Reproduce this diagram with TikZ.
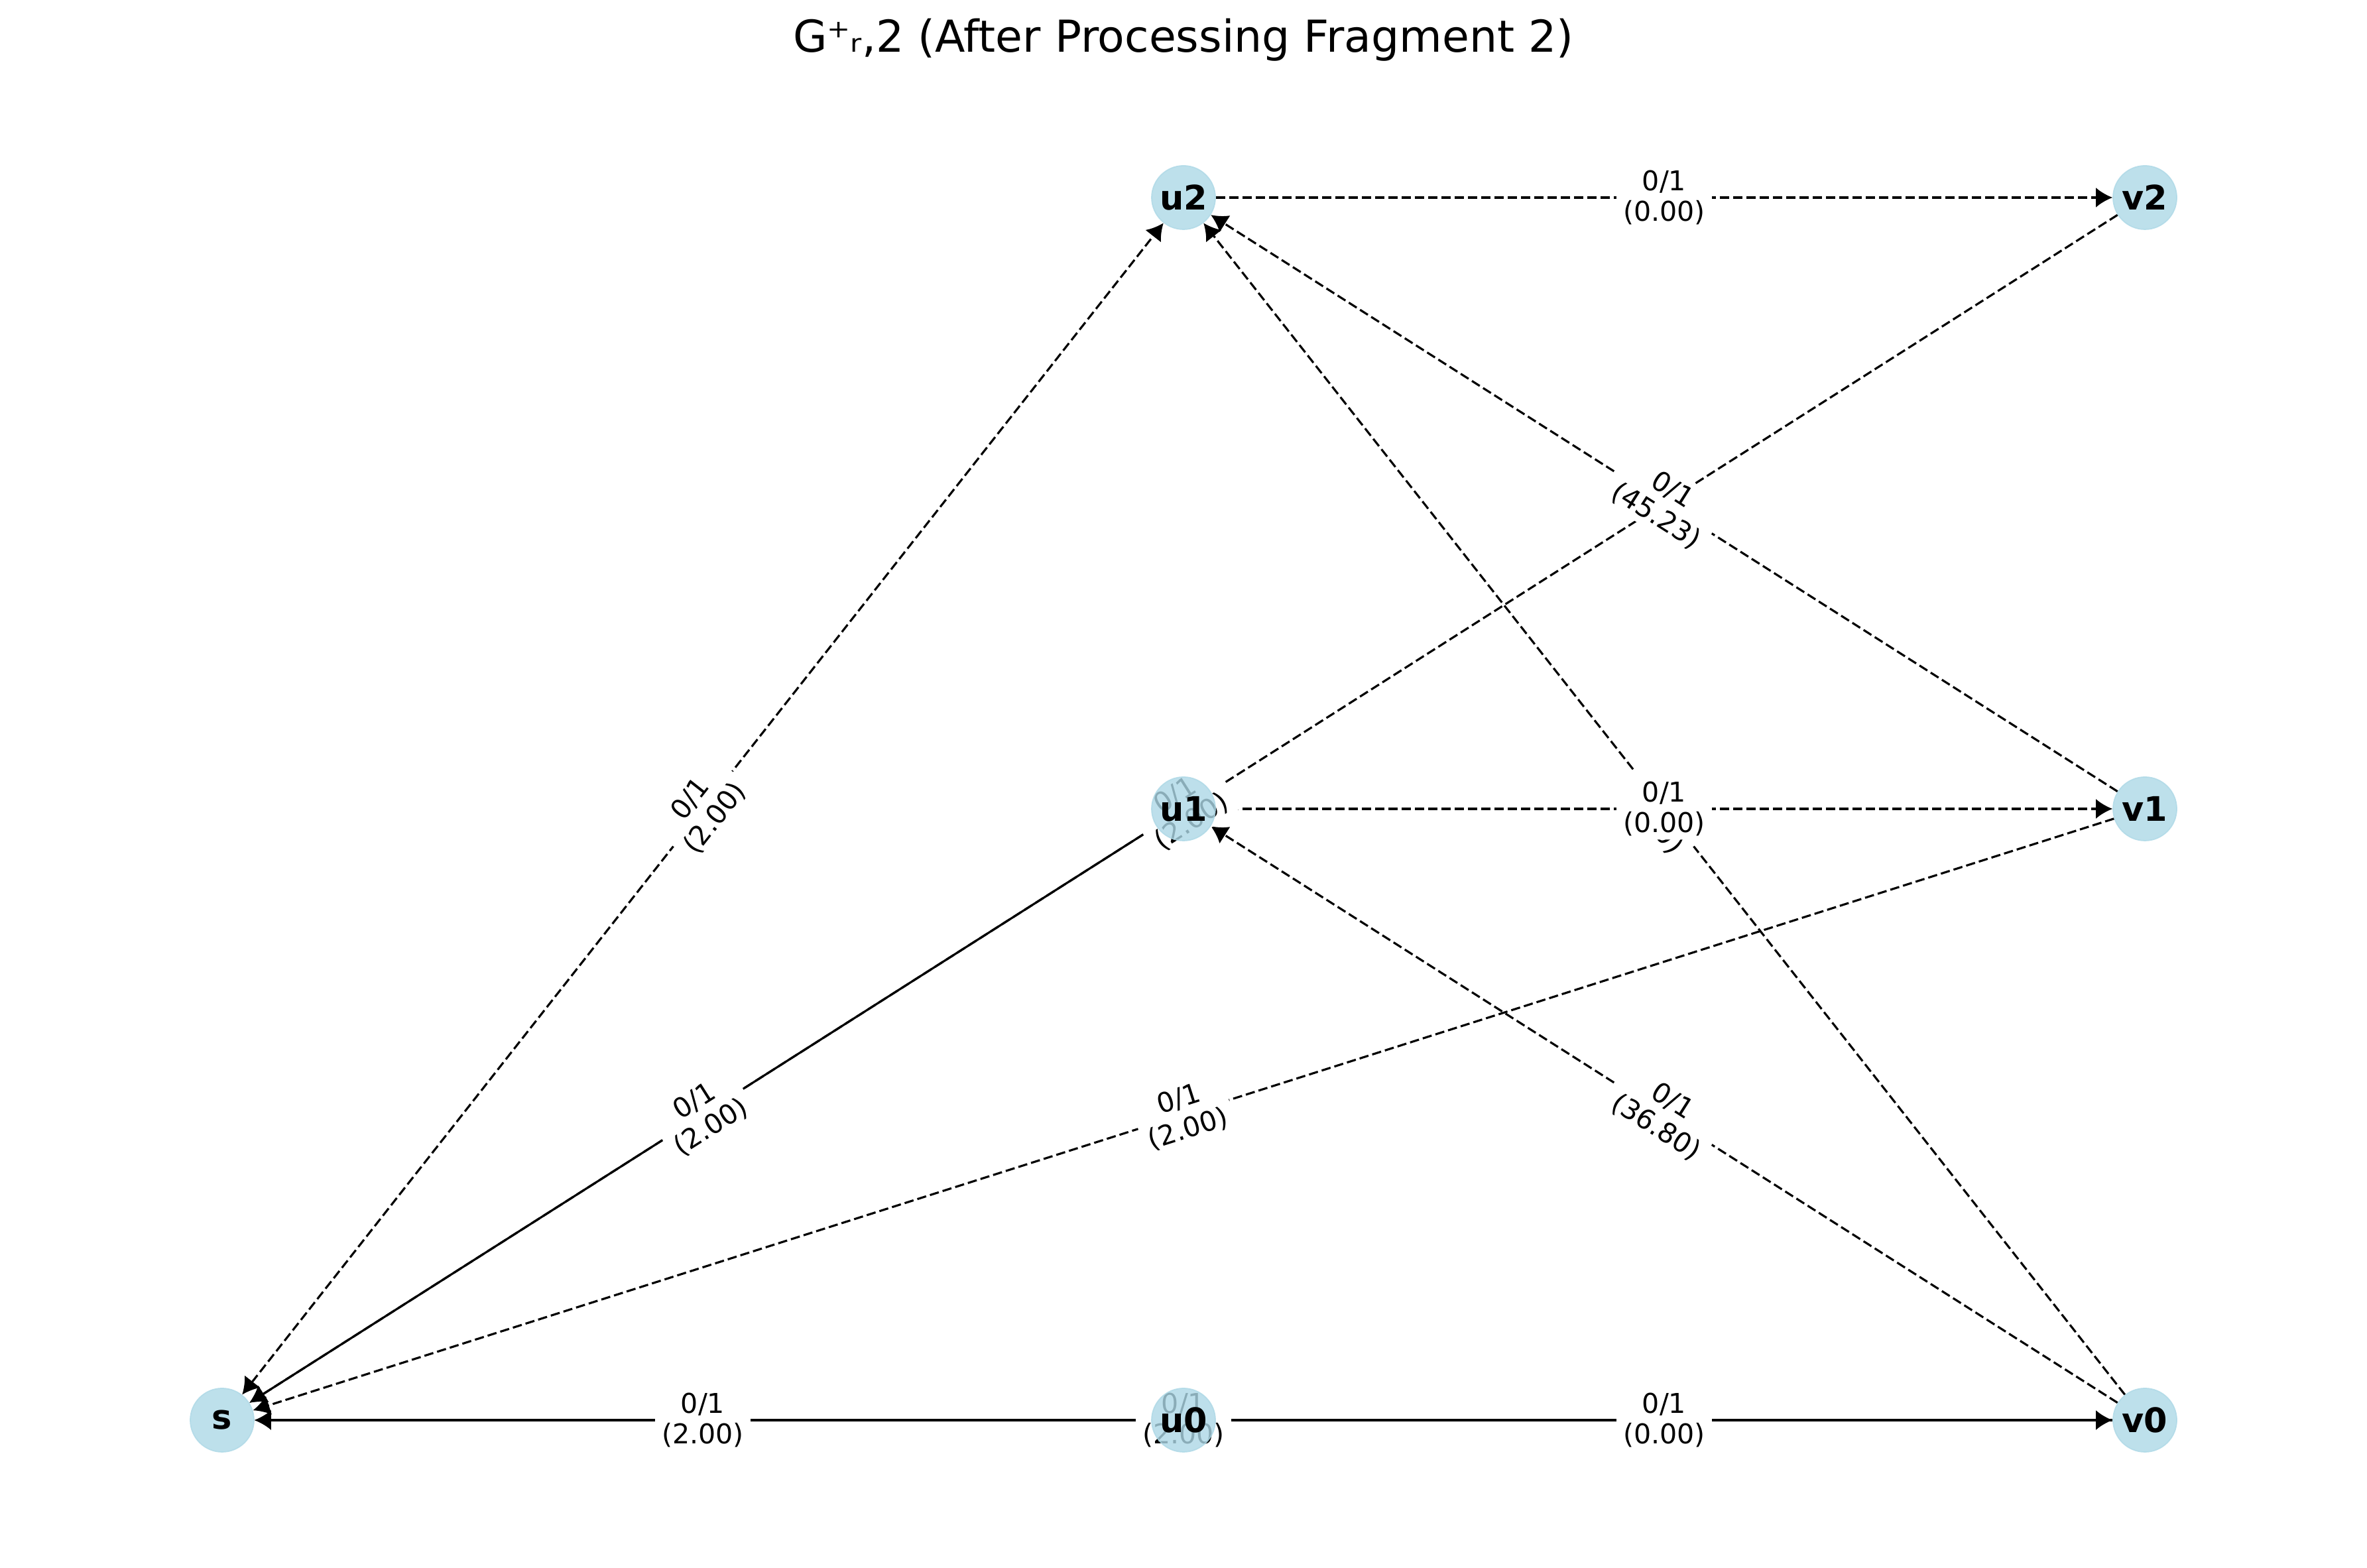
\documentclass[tikz,border=0pt]{standalone}
\usepackage{fontspec}
\setmainfont{DejaVu Sans}
\usetikzlibrary{arrows.meta,backgrounds}
\definecolor{lightblue}{RGB}{173,216,230}
\tikzset{
  vert/.style={circle, minimum size=0.96cm, inner sep=0pt, fill=lightblue, draw=lightblue,
    line width=0.5pt, fill opacity=0.8, draw opacity=0.8, text opacity=1,
    font=\fontsize{14.5}{17}\selectfont\bfseries},
  edgeline/.style={line width=0.9pt, -{Latex[length=0.25cm,width=0.3cm]}},
  flowedge/.style={edgeline},
  resedge/.style={edgeline, dash pattern=on 0.14cm off 0.06cm},
  twoway/.style={resedge, {Latex[length=0.25cm,width=0.3cm]}-{Latex[length=0.25cm,width=0.3cm]}},
  elabel/.style={fill=white, inner xsep=0.1cm, inner ysep=0.05cm, align=center,
    rounded corners=0.05cm, font=\fontsize{11.7}{13.3}\selectfont}
}
\begin{document}
\begin{tikzpicture}
  \useasboundingbox (0,0) rectangle (35.70,23.65);
  % title
  \node (title) at (17.85,23.05) {\fontsize{18.9}{22}\selectfont G⁺ᵣ,2 (After Processing Fragment 2)};
  %% the vertices
  \foreach \n/\x/\y in {s/3.35/2.23, u0/17.85/2.23, u1/17.85/11.45, u2/17.85/20.67,
                        v0/32.35/2.23, v1/32.35/11.45, v2/32.35/20.67}
    \node[vert] (\n) at (\x,\y) {\n};
  \begin{scope}[on background layer]
    %% s <-> u2 (both ways, dashed)
    \draw[twoway] (s) -- (u2);
    %% residual edges (dashed)
    \foreach \a/\b in {v1/s, v2/s, v0/s, u1/v1, u2/v2, v1/u2, v0/u2, v0/u1}
      \draw[resedge] (\a) -- (\b);
    %% flow edges (solid)
    \foreach \a/\b in {u0/s, u1/s, u0/v0}
      \draw[flowedge] (\a) -- (\b);
    %% the labels, on top of all edges
    \foreach \a/\b/\w in {u2/s/2.00, u1/s/2.00, u0/s/2.00, v1/s/2.00, v2/s/2.00, v0/s/2.00,
                          v0/u2/0.00, u1/v1/0.00, u2/v2/0.00, u0/v0/0.00, v1/u2/45.23, v0/u1/36.80}
      \path (\a) -- (\b) node[midway, sloped, elabel] {0/1\\(\w)};
  \end{scope}
\end{tikzpicture}
\end{document}
